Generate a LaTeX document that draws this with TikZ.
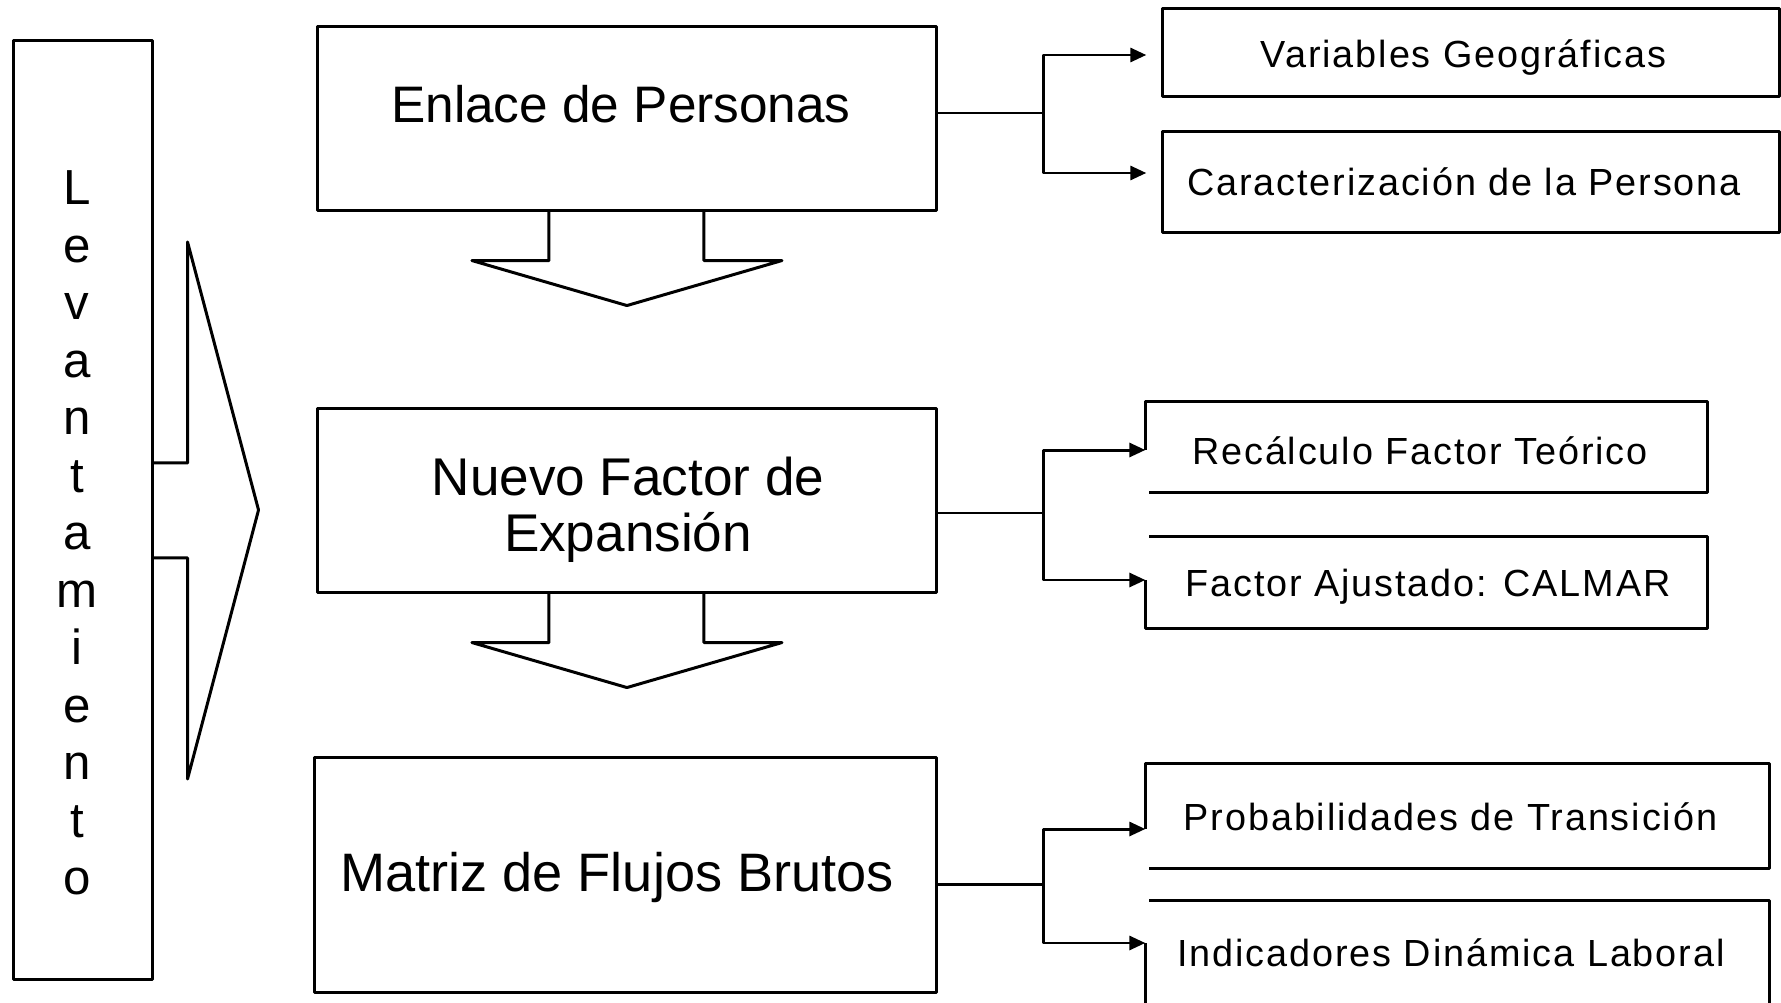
\documentclass[tikz,border=0pt]{standalone}
\usepackage{fontspec}
\setmainfont{Liberation Sans}
\newfontfamily\widefont[LetterSpace=5]{Liberation Sans}
\usetikzlibrary{positioning}
\usetikzlibrary{arrows.meta}
\tikzset{edge/.style = {->,> = {Triangle[length=0.16cm,width=0.14cm]}}}

\begin{document}
\begin{tikzpicture}[x=0.01cm,y=-0.01cm,line width=0.85pt,line join=round,
  main box/.style={draw,rectangle,minimum width=6.18cm,minimum height=1.83cm},
  main text/.style={font=\fontsize{14.6}{15.8}\selectfont,align=center},
  side box/.style={rectangle,inner sep=0pt},
  side text/.style={inner sep=0pt,font=\widefont\fontsize{10.75}{12}\selectfont},
  lev letter/.style={anchor=base,inner sep=0pt,font=\fontsize{14}{16}\selectfont}]
                \useasboundingbox (0,0) rectangle (1781,1003);

                % left column
                \node[draw,rectangle,minimum width=1.38cm,minimum height=9.38cm] (lev) at (83,510) {};
                \foreach \c [count=\i] in {L,e,v,a,n,t,a,m,i,e,n,t,o}
                    \node[lev letter] (l\i) at (77,{204.5+57.5*(\i-1)}) {\c};
                \draw ([yshift=0.47cm]lev.east) -- ++(34,0) -- ++(0,-221) -- ++(71,268)
                      -- ++(-71,269) -- ++(0,-221) -- ++(-34,0);

                % main boxes
                \node[main box] (enlace) at (627,118.5) {};
                \node[main text] (enlacet) at (621,104) {Enlace de Personas};
                \node[main box] (nuevo) at (627,500.5) {};
                \node[main text,font=\fontsize{15.1}{15.8}\selectfont] (nuevot) at (628,510) {Nuevo Factor de\\Expansión};
                \node[main box,minimum width=6.21cm,minimum height=2.34cm] (matriz) at (625.5,875) {};
                \node[main text,font=\fontsize{15.4}{16}\selectfont] (matrizt) at (617,877) {Matriz de Flujos Brutos};

                \draw ([xshift=-0.78cm]enlace.south) -- ++(0,49) -- ++(-77,0) -- ++(155,45)
                      -- ++(155,-45) -- ++(-78,0) -- ++(0,-49);
                \draw ([xshift=-0.78cm]nuevo.south) -- ++(0,49) -- ++(-77,0) -- ++(155,45)
                      -- ++(155,-45) -- ++(-78,0) -- ++(0,-49);

                % side boxes
                \node[side box,draw,minimum width=6.16cm,minimum height=0.87cm] (var) at (1471,52.5) {};
                \node[side box,draw,minimum width=6.16cm,minimum height=1.00cm] (carac) at (1471,182) {};
                \node[side box,minimum width=5.59cm,minimum height=0.88cm] (recal) at (1426.5,447) {};
                \node[side box,minimum width=5.59cm,minimum height=0.89cm] (calmar) at (1426.5,582.5) {};
                \node[side box,minimum width=6.21cm,minimum height=1.01cm] (prob) at (1457.5,816) {};
                \node[side box,minimum width=6.21cm,minimum height=0.98cm] (indic) at (1457.5,951) {};

                \node[side text] (vart) at (1463.5,58) {Variables Geográficas};
                \node[side text] (caract) at (1464,181.5) {Caracterización de la Persona};
                \node[side text] (recalt) at (1420,451) {Recálculo Factor Teórico};
                \node[side text] (calmart) at (1428,587) {Factor Ajustado: CALMAR};
                \node[side text] (probt) at (1450.5,816.5) {Probabilidades de Transición};
                \node[side text] (indict) at (1451,953) {Indicadores Dinámica Laboral};

                \draw ([yshift=-0.03cm]recal.west) -- (recal.north west) -- (recal.north east)
                      -- (recal.south east) -- ([xshift=0.04cm]recal.south west);
                \draw ([xshift=0.04cm]calmar.north west) -- (calmar.north east) -- (calmar.south east)
                      -- (calmar.south west) -- ([yshift=0.025cm]calmar.west);
                \draw ([yshift=-0.13cm]prob.west) -- (prob.north west) -- (prob.north east)
                      -- (prob.south east) -- ([xshift=0.04cm]prob.south west);
                \draw ([xshift=0.04cm]indic.north west) -- (indic.north east) -- ([yshift=-0.2cm]indic.south east);
                \draw ([yshift=0.08cm]indic.west) -- ([yshift=-0.2cm]indic.south west);

                % connectors
                \coordinate (j1) at (1043,113);
                \coordinate (j2) at (1043,513);
                \coordinate (j3) at (1043,884);
                \draw (enlace.east |- j1) -- (j1);
                \draw (nuevo.east |- j2) -- (j2);
                \draw (matriz.east |- j3) -- (j3);
                \draw[edge,shorten >=0.15cm] (j1) |- ([yshift=-0.025cm]var.west);
                \draw[edge,shorten >=0.15cm] (j1) |- ([yshift=0.09cm]carac.west);
                \draw[edge] (j2) |- ([yshift=-0.03cm]recal.west);
                \draw[edge] (j2) |- ([yshift=0.025cm]calmar.west);
                \draw[edge] (j3) |- ([yshift=-0.13cm]prob.west);
                \draw[edge] (j3) |- ([yshift=0.08cm]indic.west);
            \end{tikzpicture}
\end{document}
